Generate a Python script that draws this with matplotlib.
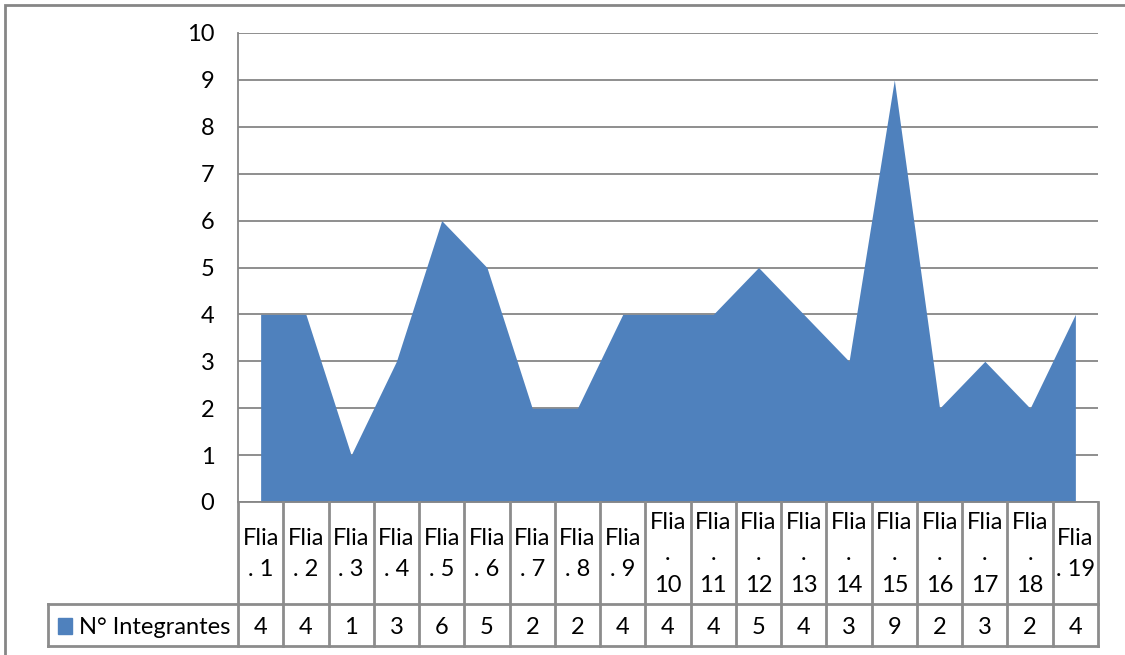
import matplotlib.pyplot as plt
import numpy as np
from matplotlib.patches import Rectangle

plt.rcParams['font.family'] = ['Lato', 'DejaVu Sans']

# data
familias = ["Flia. %d" % i for i in range(1, 20)]
integrantes = [4, 4, 1, 3, 6, 5, 2, 2, 4, 4, 4, 5, 4, 3, 9, 2, 3, 2, 4]
serie = "N° Integrantes"
yticks = list(range(0, 11))

blue = "#4F81BD"
grid_c = "#868686"
line_c = "#8C8C8C"
fs = 17

W, H = 1125, 655
fig = plt.figure(figsize=(W / 100, H / 100), dpi=100)

# outer chart border (only top/left visible in the picture)
fig.add_artist(Rectangle((5 / W, -0.2), 1.3, 1 - 5 / H + 0.2,
                         transform=fig.transFigure, fill=False,
                         edgecolor=grid_c, lw=2))

# main area plot
ax = fig.add_axes([238 / W, 1 - 502 / H, 860 / W, 469 / H])
x = np.arange(len(familias))
ax.fill_between(x, 0, integrantes, color=blue, lw=0, zorder=2)
ax.set_xlim(-0.5, len(familias) - 0.5)
ax.set_ylim(0, 10)
ax.set_yticks(yticks)
ax.set_xticks([])
ax.yaxis.grid(True, color=grid_c, lw=1.3, zorder=1)
ax.set_axisbelow(True)
ax.tick_params(axis='y', length=0, pad=17, labelsize=fs)
for s in ["top", "right"]:
    ax.spines[s].set_visible(False)
ax.spines["left"].set_color(grid_c)
ax.spines["bottom"].set_color(grid_c)
ax.spines["left"].set_linewidth(1.3)
ax.spines["bottom"].set_linewidth(1.3)

# data table below the plot, same x scale, y in pixels from the axis down
tb = fig.add_axes([238 / W, 1 - 646 / H, 860 / W, 144 / H])
tb.set_xlim(ax.get_xlim())
tb.set_ylim(144, 0)
tb.axis("off")

n = len(familias)
kw = dict(color=line_c, lw=2, clip_on=False)
for k in range(n + 1):
    tb.plot([k - 0.5, k - 0.5], [0, 144], **kw)
left = -0.5 - 190 / 45.26
tb.plot([left, n - 0.5], [102, 102], **kw)
tb.plot([left, n - 0.5], [144, 144], **kw)
tb.plot([left, left], [102, 144], **kw)

for i, name in enumerate(familias):
    num = name.split(". ")[1]
    if 10 <= int(num) <= 18:
        lab = "Flia\n.\n" + num
    else:
        lab = "Flia\n. " + num
    tb.text(i, 52, lab, ha="center", va="center", fontsize=fs,
            linespacing=1.6)
    tb.text(i, 125, str(integrantes[i]), ha="center", va="center",
            fontsize=fs)

# legend key in table
tb.add_patch(Rectangle((left + 10 / 45.26, 116), 14 / 45.26, 16,
                       color=blue, clip_on=False))
tb.text(left + 31 / 45.26, 125, serie, ha="left", va="center", fontsize=fs)

fig.savefig("out.png", dpi=100)
